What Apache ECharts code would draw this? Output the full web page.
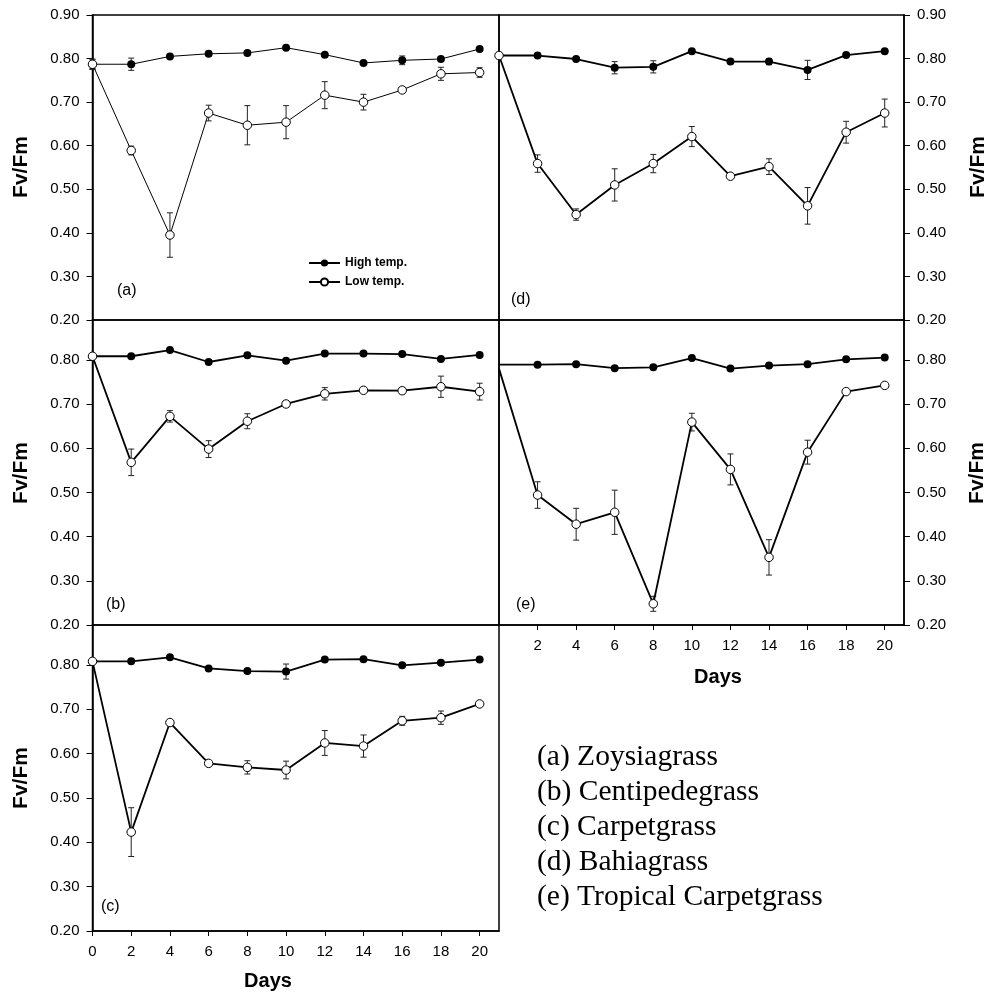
<!DOCTYPE html>
<html>
<head>
<meta charset="utf-8">
<script src="https://cdn.jsdelivr.net/npm/echarts@6/dist/echarts.min.js"></script>
<style>
  html, body { margin: 0; padding: 0; background: #fff; }
  #chart { width: 991px; height: 995px; }
</style>
</head>
<body>
<div id="chart"></div>
<script>
// days of measurement
const days = [0, 2, 4, 6, 8, 10, 12, 14, 16, 18, 20];
const yTicks = ['0.20', '0.30', '0.40', '0.50', '0.60', '0.70', '0.80', '0.90'];

// (a) Zoysiagrass
const highA = [0.787, 0.787, 0.805, 0.811, 0.813, 0.825, 0.809, 0.790, 0.796, 0.799, 0.822];
const highAErr = [0.012, 0.014, 0, 0, 0, 0, 0, 0, 0.010, 0.005, 0];
const lowA = [0.787, 0.589, 0.395, 0.675, 0.647, 0.654, 0.716, 0.700, 0.728, 0.765, 0.768];
const lowAErr = [0.010, 0.010, 0.051, 0.018, 0.045, 0.038, 0.031, 0.018, 0, 0.015, 0.011];

// (b) Centipedegrass
const highB = [0.808, 0.808, 0.822, 0.795, 0.810, 0.798, 0.814, 0.814, 0.813, 0.802, 0.811];
const highBErr = [0, 0, 0, 0, 0, 0, 0, 0, 0, 0, 0];
const lowB = [0.808, 0.568, 0.672, 0.598, 0.661, 0.700, 0.723, 0.731, 0.730, 0.739, 0.728];
const lowBErr = [0, 0.030, 0.013, 0.019, 0.017, 0.007, 0.014, 0.005, 0.007, 0.024, 0.019];

// (c) Carpetgrass
const highC = [0.808, 0.808, 0.817, 0.792, 0.786, 0.785, 0.812, 0.813, 0.799, 0.805, 0.812];
const highCErr = [0, 0, 0, 0, 0, 0.017, 0, 0, 0, 0, 0];
const lowC = [0.808, 0.423, 0.670, 0.578, 0.569, 0.563, 0.624, 0.617, 0.674, 0.681, 0.712];
const lowCErr = [0, 0.055, 0, 0.006, 0.015, 0.020, 0.028, 0.025, 0.010, 0.015, 0];

// (d) Bahiagrass
const highD = [0.807, 0.807, 0.799, 0.779, 0.781, 0.817, 0.793, 0.793, 0.774, 0.808, 0.817];
const highDErr = [0, 0, 0, 0.014, 0.014, 0, 0, 0.007, 0.022, 0, 0];
const lowD = [0.807, 0.559, 0.442, 0.510, 0.559, 0.621, 0.530, 0.552, 0.462, 0.631, 0.675];
const lowDErr = [0, 0.020, 0.013, 0.037, 0.021, 0.023, 0.004, 0.018, 0.042, 0.025, 0.032];

// (e) Tropical Carpetgrass
const highE = [0.789, 0.789, 0.790, 0.781, 0.783, 0.804, 0.780, 0.787, 0.790, 0.801, 0.805];
const highEErr = [0, 0, 0, 0, 0, 0, 0, 0, 0, 0, 0];
const lowE = [0.780, 0.494, 0.428, 0.455, 0.248, 0.659, 0.552, 0.353, 0.591, 0.728, 0.742];
const lowEErr = [0, 0.030, 0.036, 0.050, 0.017, 0.020, 0.035, 0.040, 0.027, 0, 0];

const speciesNames = ['(a) Zoysiagrass', '(b) Centipedegrass', '(c) Carpetgrass', '(d) Bahiagrass', '(e) Tropical Carpetgrass'];

const FONT = 'Liberation Sans, Arial, sans-serif';

// panel layout
const panels = [
  { tag: '(a)', high: highA, highErr: highAErr, low: lowA, lowErr: lowAErr,
    left: 92.5, top: 15, width: 406.5, height: 305, ymax: 0.9, side: 'left', xLabels: 'none', lw: 1,
    tagPos: [117, 291], namePos: [21, 167] },
  { tag: '(b)', high: highB, highErr: highBErr, low: lowB, lowErr: lowBErr,
    left: 92.5, top: 320, width: 406.5, height: 305, ymax: 0.89, side: 'left', xLabels: 'none', lw: 1.8,
    tagPos: [106, 605], namePos: [21, 473] },
  { tag: '(c)', high: highC, highErr: highCErr, low: lowC, lowErr: lowCErr,
    left: 92.5, top: 625, width: 406.5, height: 306, ymax: 0.89, side: 'left', xLabels: 'all', lw: 1.8,
    tagPos: [101, 907], namePos: [21, 778], daysPos: [268, 981] },
  { tag: '(d)', high: highD, highErr: highDErr, low: lowD, lowErr: lowDErr,
    left: 499, top: 15, width: 405, height: 305, ymax: 0.9, side: 'right', xLabels: 'none', lw: 1.8,
    tagPos: [511, 300], namePos: [978, 167] },
  { tag: '(e)', high: highE, highErr: highEErr, low: lowE, lowErr: lowEErr,
    left: 499, top: 320, width: 405, height: 305, ymax: 0.89, side: 'right', xLabels: 'noZero', lw: 1.8,
    tagPos: [516, 605], namePos: [977, 473], daysPos: [718, 677], hideDay0: true }
];

function errRender(params, api) {
  const x = api.value(0);
  const top = api.coord([x, api.value(2)]);
  const bot = api.coord([x, api.value(1)]);
  const w = 3;
  const st = { stroke: '#222', lineWidth: 1 };
  return {
    type: 'group',
    children: [
      { type: 'line', shape: { x1: top[0], y1: top[1], x2: bot[0], y2: bot[1] }, style: st },
      { type: 'line', shape: { x1: top[0] - w, y1: top[1], x2: top[0] + w, y2: top[1] }, style: st },
      { type: 'line', shape: { x1: bot[0] - w, y1: bot[1], x2: bot[0] + w, y2: bot[1] }, style: st }
    ]
  };
}

function errData(vals, errs) {
  const out = [];
  vals.forEach(function (v, i) {
    if (errs[i] > 0) out.push([days[i], v - errs[i], v + errs[i]]);
  });
  return out;
}

function lineData(vals, hideDay0) {
  return days.map(function (d, k) {
    if (hideDay0 && k === 0) return { value: [d, vals[k]], symbol: 'none' };
    return [d, vals[k]];
  });
}

const grid = [], xAxis = [], yAxis = [], series = [], graphic = [];

panels.forEach(function (p, i) {
  grid.push({
    left: p.left, top: p.top, width: p.width, height: p.height,
    show: true, borderColor: '#000', borderWidth: 1.5, backgroundColor: 'transparent'
  });
  const showX = p.xLabels !== 'none';
  xAxis.push({
    gridIndex: i, type: 'value', min: 0, max: 21, interval: 2,
    axisLine: { show: showX, onZero: false, lineStyle: { color: '#000', width: 1.5 } },
    axisTick: { show: showX, length: 5, lineStyle: { color: '#000' } },
    axisLabel: {
      show: showX, showMaxLabel: false, showMinLabel: p.xLabels === 'all',
      margin: 13, color: '#000', fontSize: 15, fontFamily: FONT
    },
    splitLine: { show: false }
  });
  yAxis.push({
    gridIndex: i, type: 'value', min: 0.2, max: p.ymax, interval: 0.1,
    position: p.side,
    axisLine: { show: true, onZero: false, lineStyle: { color: '#000', width: 1.5 } },
    axisTick: { show: true, length: 6, lineStyle: { color: '#000' } },
    axisLabel: {
      showMaxLabel: p.ymax === 0.9, margin: 13, color: '#000', fontSize: 15, fontFamily: FONT,
      formatter: function (v) { return yTicks[Math.round((v - 0.2) * 10)] || ''; }
    },
    splitLine: { show: false }
  });

  series.push({
    type: 'custom', name: 'err-high-' + i, xAxisIndex: i, yAxisIndex: i, z: 1,
    renderItem: errRender, data: errData(p.high, p.highErr), silent: true
  });
  series.push({
    type: 'custom', name: 'err-low-' + i, xAxisIndex: i, yAxisIndex: i, z: 1,
    renderItem: errRender, data: errData(p.low, p.lowErr), silent: true
  });
  series.push({
    type: 'line', name: 'High temp.', xAxisIndex: i, yAxisIndex: i, z: 3,
    data: lineData(p.high, p.hideDay0),
    symbol: 'circle', symbolSize: 8, showAllSymbol: true,
    itemStyle: { color: '#000' },
    lineStyle: { color: '#000', width: p.lw }
  });
  series.push({
    type: 'line', name: 'Low temp.', xAxisIndex: i, yAxisIndex: i, z: 4,
    data: lineData(p.low, p.hideDay0),
    symbol: 'circle', symbolSize: 8.5, showAllSymbol: true,
    itemStyle: { color: '#fff', borderColor: '#000', borderWidth: 1 },
    lineStyle: { color: '#000', width: p.lw }
  });

  graphic.push({
    type: 'text', x: p.tagPos[0], y: p.tagPos[1],
    style: { text: p.tag, font: '16px ' + FONT, fill: '#000', textVerticalAlign: 'middle' }
  });
  graphic.push({
    type: 'text', x: p.namePos[0], y: p.namePos[1], rotation: Math.PI / 2,
    style: { text: 'Fv/Fm', font: 'bold 21px ' + FONT, fill: '#000', textAlign: 'center', textVerticalAlign: 'middle' }
  });
  if (p.daysPos) {
    graphic.push({
      type: 'text', x: p.daysPos[0], y: p.daysPos[1],
      style: { text: 'Days', font: 'bold 20px ' + FONT, fill: '#000', textAlign: 'center', textVerticalAlign: 'middle' }
    });
  }
});

speciesNames.forEach(function (name, k) {
  graphic.push({
    type: 'text', x: 537, y: 757 + k * 35,
    style: { text: name, font: '29.5px Liberation Serif, Times New Roman, serif', fill: '#000', textVerticalAlign: 'middle' }
  });
});

const chart = echarts.init(document.getElementById('chart'));
chart.setOption({
  animation: false,
  backgroundColor: '#fff',
  legend: {
    data: ['High temp.', 'Low temp.'],
    orient: 'vertical', left: 308, top: 257,
    itemWidth: 31, itemHeight: 9, itemGap: 7, padding: 0,
    textStyle: { fontFamily: FONT, fontWeight: 'bold', fontSize: 12, color: '#000' }
  },
  grid: grid,
  xAxis: xAxis,
  yAxis: yAxis,
  series: series,
  graphic: graphic
});
</script>
</body>
</html>
